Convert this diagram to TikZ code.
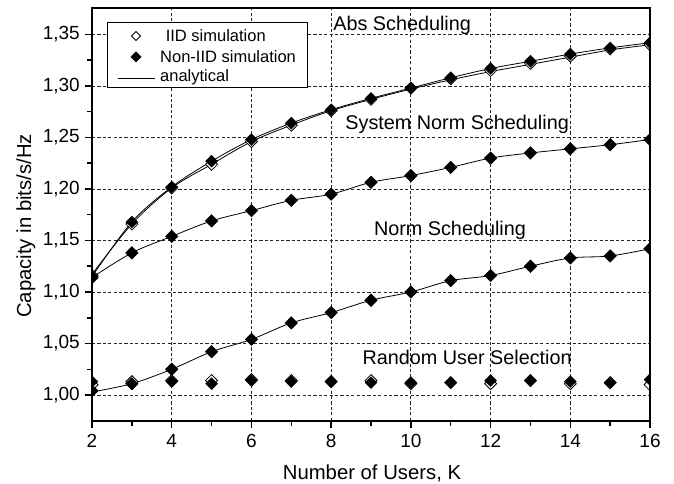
\documentclass[tikz,border=0pt]{standalone}
\usepackage{fontspec}
\setmainfont{Liberation Sans}
\begin{document}
\begin{tikzpicture}[
  x=1pt, y=1pt,
  axisframe/.style={line width=1.7pt},
  gridline/.style={line width=0.8pt, dash pattern=on 3.2pt off 2.2pt, black!85},
  curve/.style={line width=0.8pt},
  ticklbl/.style={font=\fontsize{19}{19}\selectfont, inner sep=0pt},
  axislbl/.style={font=\fontsize{20.3}{20.3}\selectfont, inner sep=0pt},
  curvelbl/.style={font=\fontsize{19.8}{19.8}\selectfont, inner sep=0pt},
  legendtxt/.style={font=\fontsize{16.5}{16.5}\selectfont, inner sep=0pt, anchor=west},
  openmark/.style={draw=black, fill=white, line width=0.8pt},
  fullmark/.style={fill=black},
]
\useasboundingbox (0,0) rectangle (674,484);

% data coordinates: K on x, capacity on y
\begin{scope}[x=39.86pt, y=1030pt, shift={(12.28pt,-941pt)}]
  % grid
  \foreach \k in {4,6,...,14}
    \draw[gridline] (\k,0.975) -- (\k,1.3757);
  \foreach \v in {1.00,1.05,...,1.36}
    \draw[gridline] (2,\v) -- (16,\v);

  % curve labels
  \node[curvelbl] (labs)  at (9.78,1.3592) {Abs Scheduling};
  \node[curvelbl] (lsys)  at (11.16,1.2631) {System Norm Scheduling};
  \node[curvelbl] (lnorm) at (10.98,1.1602) {Norm Scheduling};
  \node[curvelbl] (lrnd)  at (11.41,1.0369) {Random User Selection};

  \begin{scope}
    \clip (2,0.975) rectangle (16,1.3757);
    % analytical curves
    \draw[curve] plot[smooth, tension=0.55] coordinates {
      (2,1.117) (3,1.166) (4,1.201) (5,1.224) (6,1.246) (7,1.262) (8,1.276)
      (9,1.287) (10,1.297) (11,1.306) (12,1.314) (13,1.321) (14,1.328)
      (15,1.335) (16,1.340)};
    \draw[curve] plot[smooth, tension=0.55] coordinates {
      (2,1.115) (3,1.168) (4,1.202) (5,1.227) (6,1.248) (7,1.264) (8,1.277)
      (9,1.288) (10,1.298) (11,1.308) (12,1.317) (13,1.324) (14,1.331)
      (15,1.337) (16,1.342)};
    \draw[curve] plot[smooth, tension=0.55] coordinates {
      (2,1.114) (3,1.138) (4,1.154) (5,1.169) (6,1.179) (7,1.189) (8,1.195)
      (9,1.2065) (10,1.213) (11,1.221) (12,1.230) (13,1.235) (14,1.239)
      (15,1.243) (16,1.248)};
    \draw[curve] plot[smooth, tension=0.55] coordinates {
      (2,1.003) (3,1.011) (4,1.025) (5,1.042) (6,1.054) (7,1.070) (8,1.080)
      (9,1.092) (10,1.100) (11,1.111) (12,1.116) (13,1.125) (14,1.133)
      (15,1.135) (16,1.142)};

    % IID simulation markers
    \foreach \k/\v in {2/1.116,3/1.166,4/1.201,5/1.224,6/1.246,7/1.262,8/1.276,
        9/1.287,10/1.298,11/1.307,12/1.315,13/1.322,14/1.329,15/1.336,16/1.340,
        2/1.114,3/1.138,4/1.154,5/1.169,6/1.179,7/1.189,8/1.195,9/1.2065,
        10/1.213,11/1.221,12/1.230,13/1.235,14/1.239,15/1.243,16/1.248,
        2/1.004,3/1.011,4/1.025,5/1.042,6/1.054,7/1.070,8/1.080,9/1.092,
        10/1.100,11/1.111,12/1.116,13/1.125,14/1.133,15/1.135,16/1.142,
        2/1.010,3/1.013,4/1.014,5/1.014,6/1.015,7/1.014,8/1.013,9/1.014,
        10/1.011,11/1.012,12/1.011,13/1.014,14/1.011,15/1.012,16/1.010}
      \draw[openmark] (\k,\v) ++(0,6pt) -- ++(6pt,-6pt) -- ++(-6pt,-6pt)
        -- ++(-6pt,6pt) -- cycle;

    % Non-IID simulation markers
    \foreach \k/\v in {2/1.115,3/1.168,4/1.202,5/1.227,6/1.248,7/1.264,8/1.277,
        9/1.288,10/1.298,11/1.308,12/1.317,13/1.324,14/1.331,15/1.337,16/1.342,
        2/1.114,3/1.138,4/1.154,5/1.169,6/1.179,7/1.189,8/1.195,9/1.2065,
        10/1.213,11/1.221,12/1.230,13/1.235,14/1.239,15/1.243,16/1.248,
        2/1.004,3/1.011,4/1.025,5/1.042,6/1.054,7/1.070,8/1.080,9/1.092,
        10/1.100,11/1.111,12/1.116,13/1.125,14/1.133,15/1.135,16/1.142,
        2/1.013,3/1.011,4/1.013,5/1.011,6/1.014,7/1.013,8/1.013,9/1.012,
        10/1.012,11/1.012,12/1.014,13/1.014,14/1.013,15/1.012,16/1.015}
      \fill[fullmark] (\k,\v) ++(0,6.3pt) -- ++(6.3pt,-6.3pt) -- ++(-6.3pt,-6.3pt)
        -- ++(-6.3pt,6.3pt) -- cycle;
  \end{scope}

  % ticks
  \foreach \v in {1.00,1.05,...,1.36}
    \draw[line width=1.5pt] (2,\v) -- ++(-7.5pt,0);
  \foreach \v in {1.025,1.075,...,1.36}
    \draw[line width=1.5pt] (2,\v) -- ++(-5pt,0);
  \foreach \k in {2,4,...,16}
    \draw[line width=1.5pt] (\k,0.975) -- ++(0,-7.5pt);
  \foreach \k in {3,5,...,15}
    \draw[line width=1.5pt] (\k,0.975) -- ++(0,-5pt);

  % tick labels
  \foreach \v/\t in {1.00/{1,00},1.05/{1,05},1.10/{1,10},1.15/{1,15},
      1.20/{1,20},1.25/{1,25},1.30/{1,30},1.35/{1,35}}
    \node[ticklbl, anchor=east] at ([xshift=-12pt]2,\v) {\t};
  \foreach \k in {2,4,...,16}
    \node[ticklbl] at ([yshift=-20.5pt]\k,0.975) {\k};

  % frame
  \draw[axisframe] (2,0.975) rectangle (16,1.3757);
\end{scope}

% legend
\draw[line width=0.8pt, fill=white] (107,397) rectangle (307,462);
\draw[openmark] (136,448) ++(0,4.5pt) -- ++(4.5pt,-4.5pt) -- ++(-4.5pt,-4.5pt)
  -- ++(-4.5pt,4.5pt) -- cycle;
\node[legendtxt] (liid) at (161,448) {\ IID simulation};
\fill[fullmark] (136,427) ++(0,5.5pt) -- ++(5.5pt,-5.5pt) -- ++(-5.5pt,-5.5pt)
  -- ++(-5.5pt,5.5pt) -- cycle;
\node[legendtxt] (lniid) at (160,427) {Non-IID simulation};
\coordinate (la) at (118,406);
\coordinate (lb) at (155,406);
\draw[curve] (la) -- (lb);
\node[legendtxt] (lan) at (160,407) {analytical};

% axis titles
\node[axislbl] (xt) at (372,11) {Number of Users, K};
\node[axislbl, rotate=90] (yt) at (26,258) {Capacity in bits/s/Hz};
\end{tikzpicture}
\end{document}
